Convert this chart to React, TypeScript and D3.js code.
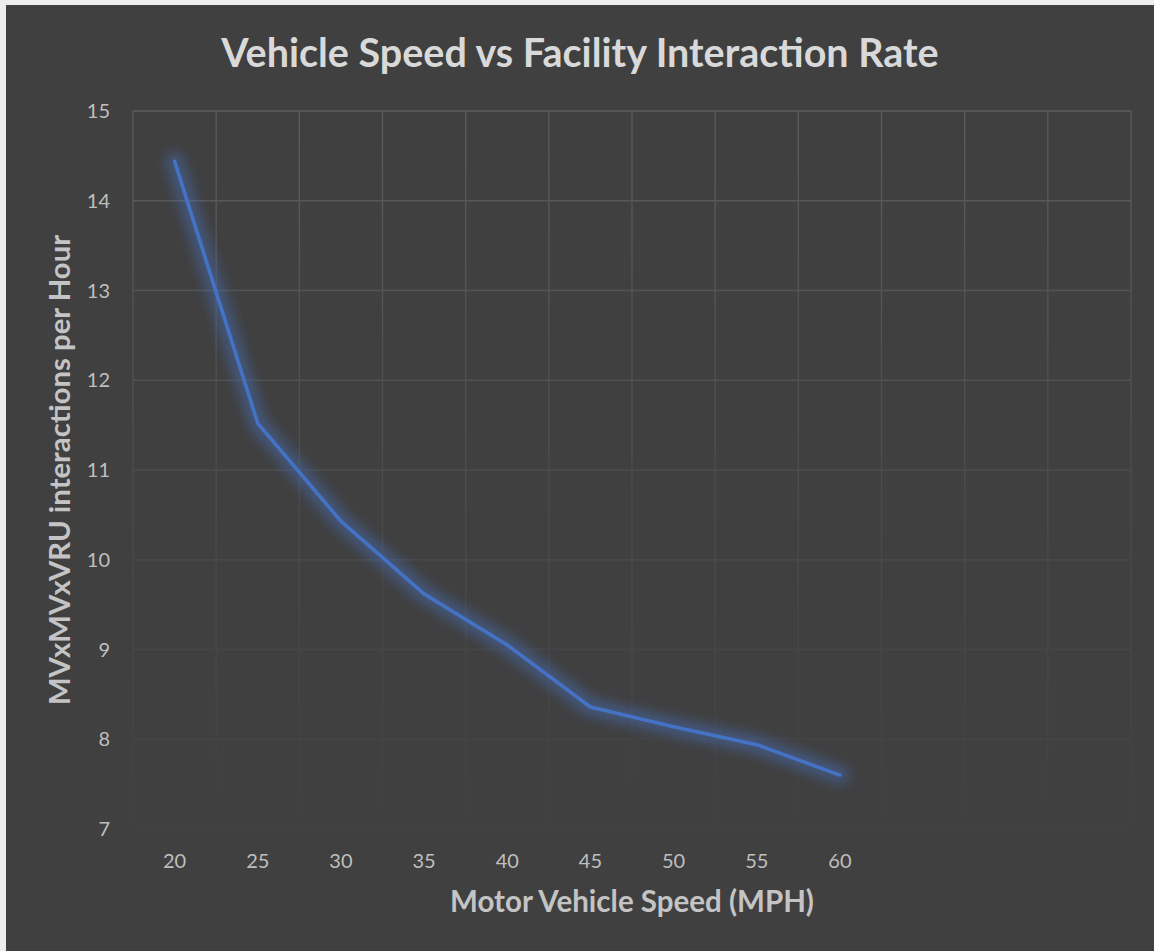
import React from "react";
import * as d3 from "d3";

// ---- data ----
const xCategories: string[] = ["20", "25", "30", "35", "40", "45", "50", "55", "60", "", "", ""];
const speeds: string[] = ["20", "25", "30", "35", "40", "45", "50", "55", "60"];
const rates: number[] = [14.44, 11.52, 10.43, 9.62, 9.05, 8.36, 8.14, 7.94, 7.6];
const yTicks: number[] = [7, 8, 9, 10, 11, 12, 13, 14, 15];

const TITLE = "Vehicle Speed vs Facility Interaction Rate";
const X_TITLE = "Motor Vehicle Speed (MPH)";
const Y_TITLE = "MVxMVxVRU interactions per Hour";

const W = 1154;
const H = 951;
const FONT = "Lato, 'Open Sans', sans-serif";

export default function App() {
  const left = 133;
  const right = 1131;
  const top = 111;
  const bottom = 829;

  const x = d3
    .scaleBand<number>()
    .domain(d3.range(xCategories.length))
    .range([left, right])
    .paddingInner(0)
    .paddingOuter(0);
  const y = d3.scaleLinear().domain([7, 15]).range([bottom, top]);

  const cx = (s: string) => (x(xCategories.indexOf(s)) as number) + x.bandwidth() / 2;
  const pts: [number, number][] = speeds.map((s, i) => [cx(s), y(rates[i])]);
  const line = d3.line<[number, number]>().x((d) => d[0]).y((d) => d[1]);
  const pathD = line(pts) || "";

  const bounds = d3.range(xCategories.length + 1).map((i) =>
    i < xCategories.length ? (x(i) as number) : right
  );

  return (
    <svg
      width={W}
      height={H}
      style={{ position: "absolute", left: 0, top: 0, display: "block" }}
      xmlns="http://www.w3.org/2000/svg"
    >
      <defs>
        <linearGradient id="gridGrad" gradientUnits="userSpaceOnUse" x1={0} y1={top} x2={0} y2={bottom}>
          <stop offset="0" stopColor="#5c5c5c" />
          <stop offset="0.55" stopColor="#4b4b4b" />
          <stop offset="1" stopColor="#414141" />
        </linearGradient>
        <filter id="glow" x="-20%" y="-20%" width="140%" height="140%">
          <feGaussianBlur stdDeviation="6" />
        </filter>
      </defs>
      <rect x={0} y={0} width={W} height={H} fill="#eeeeee" />
      <rect x={6} y={5} width={W - 6} height={H - 5} fill="#404040" />

      {/* gridlines */}
      <g>
        {yTicks.map((t) => (
          <line
            key={"h" + t}
            x1={left}
            x2={right}
            y1={y(t)}
            y2={y(t)}
            stroke="url(#gridGrad)"
            strokeWidth={1.3}
          />
        ))}
        {bounds.map((b, i) => (
          <line
            key={"v" + i}
            x1={b}
            x2={b}
            y1={top}
            y2={bottom}
            stroke="url(#gridGrad)"
            strokeWidth={1.3}
          />
        ))}
      </g>

      {/* y tick labels */}
      <g fontFamily={FONT} fontSize={20} fill="#bfbfbf" textAnchor="end">
        {yTicks.map((t) => (
          <text key={"yt" + t} x={110} y={y(t)} dy="0.35em">
            {t}
          </text>
        ))}
      </g>

      {/* x tick labels */}
      <g fontFamily={FONT} fontSize={20} fill="#bfbfbf" textAnchor="middle">
        {xCategories.map((c, i) =>
          c ? (
            <text key={"xt" + i} x={(x(i) as number) + x.bandwidth() / 2} y={868}>
              {c}
            </text>
          ) : null
        )}
      </g>

      {/* series glow + line */}
      <path
        d={pathD}
        fill="none"
        stroke="#4472c4"
        strokeWidth={18}
        strokeOpacity={0.45}
        strokeLinejoin="round"
        strokeLinecap="round"
        filter="url(#glow)"
      />
      <path
        d={pathD}
        fill="none"
        stroke="#4472c4"
        strokeWidth={3.6}
        strokeLinejoin="round"
        strokeLinecap="round"
      />

      {/* titles */}
      <text
        x={580}
        y={67}
        textAnchor="middle"
        fontFamily={FONT}
        fontWeight={700}
        fontSize={39.5}
        fill="#d9d9d9"
      >
        {TITLE}
      </text>
      <text
        x={(left + right) / 2}
        y={912}
        textAnchor="middle"
        fontFamily={FONT}
        fontWeight={700}
        fontSize={29.5}
        fill="#c4c4c4"
      >
        {X_TITLE}
      </text>
      <text
        transform={`translate(70,${(top + bottom) / 2}) rotate(-90)`}
        textAnchor="middle"
        fontFamily={FONT}
        fontWeight={700}
        fontSize={29.3}
        fill="#c4c4c4"
      >
        {Y_TITLE}
      </text>
    </svg>
  );
}
